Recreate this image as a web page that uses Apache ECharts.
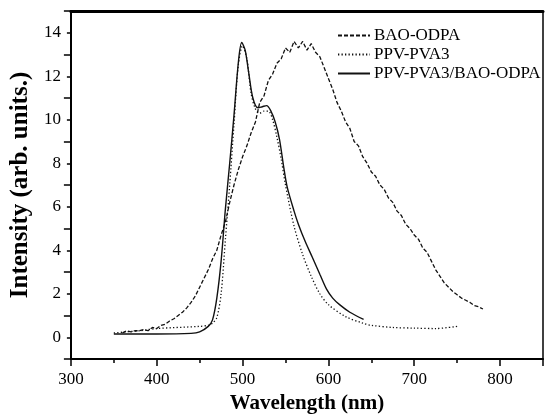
<!DOCTYPE html>
<html>
<head>
<meta charset="utf-8">
<script src="https://cdn.jsdelivr.net/npm/echarts@6/dist/echarts.min.js"></script>
<style>html,body{margin:0;padding:0;background:#fff}#c{width:546px;height:419px}</style>
</head>
<body>
<div id="c"></div>
<script>
// BAO-ODPA (dashed)
var baoX = [360,365,370,375,380,385,390,395,400,405,410,415,420,425,430,435,440,445,450,455,460,465,470,475,480,485,490,495,500,505,510,515,520,525,530,535,540,545,550,555,560,565,570,575,580,585,590,595,600,605,610,615,620,625,630,635,640,645,650,655,660,665,670,675,680,685,690,695,700,705,710,715,720,725,730,735,740,745,750,755,760,765,770,775,780];
var baoY = [0.2,0.3,0.25,0.3,0.3,0.35,0.3,0.45,0.4,0.55,0.6,0.75,0.85,1.0,1.15,1.35,1.6,1.9,2.3,2.7,3.1,3.6,4.0,4.7,5.3,6.2,7.0,7.7,8.3,8.8,9.4,9.9,10.8,11.1,11.8,12.1,12.6,12.8,13.3,13.1,13.6,13.3,13.6,13.2,13.5,13.1,12.9,12.4,11.9,11.4,10.8,10.4,9.9,9.6,9.0,8.8,8.3,8.0,7.6,7.4,7.0,6.8,6.4,6.2,5.8,5.6,5.2,5.0,4.7,4.5,4.1,3.9,3.5,3.1,2.8,2.5,2.3,2.1,1.95,1.8,1.7,1.6,1.45,1.4,1.3];
// PPV-PVA3 (dotted)
var ppvX = [350,380,400,450,460,465,470,475,480,485,490,495,500,505,510,515,520,525,530,535,540,545,550,560,570,580,590,600,620,640,650,675,700,725,750];
var ppvY = [0.2,0.3,0.4,0.5,0.55,0.65,0.9,2.0,4.5,7.0,9.8,12.5,13.4,12.8,11.2,10.5,10.3,10.4,10.4,10.0,9.2,8.2,7.0,5.1,3.8,2.8,2.0,1.5,0.95,0.65,0.55,0.45,0.42,0.4,0.5];
// PPV-PVA3/BAO-ODPA (solid)
var mixX = [350,400,440,450,460,465,470,475,480,485,490,495,499,503,507,512,518,523,528,533,538,543,548,552,560,565,573,581,590,598,605,613,625,641];
var mixY = [0.15,0.15,0.18,0.25,0.5,0.8,1.8,3.5,5.9,8.0,10.2,12.6,13.55,13.2,12.2,11.0,10.55,10.6,10.65,10.4,9.9,9.1,7.8,6.9,5.8,5.2,4.4,3.7,2.9,2.2,1.8,1.5,1.15,0.82];

var names = ['BAO-ODPA','PPV-PVA3','PPV-PVA3/BAO-ODPA'];
var xTicks = [300,400,500,600,700,800];
var yTicks = [0,2,4,6,8,10,12,14];

function pairs(xs, ys){ return xs.map(function(x,i){ return [x, ys[i]]; }); }

var FONT = "'Liberation Serif','Times New Roman',serif";
var chart = echarts.init(document.getElementById('c'), null, {renderer:'canvas'});
chart.setOption({
  animation:false,
  backgroundColor:'#fff',
  grid:{left:69, right:1, top:11, bottom:56, containLabel:false},
  legend:{
    orient:'vertical', left:337, top:27, itemWidth:32, itemHeight:14, itemGap:2, padding:0,
    itemStyle:{opacity:0},
    textStyle:{fontFamily:FONT, fontSize:17, color:'#000', lineHeight:14, padding:[0,0,0,-1]},
    data:names
  },
  xAxis:[{
    type:'value', min:300, max:850, interval:100, position:'bottom',
    name:'Wavelength (nm)', nameLocation:'middle', nameGap:34,
    nameTextStyle:{fontFamily:FONT, fontSize:21, fontWeight:'bold', color:'#000'},
    axisLine:{show:true, onZero:false, lineStyle:{color:'#000', width:2}},
    axisTick:{show:true, inside:false, length:7, lineStyle:{color:'#000', width:1.5}},
    minorTick:{show:true, splitNumber:2, length:4, lineStyle:{color:'#000', width:1.5}},
    axisLabel:{fontFamily:FONT, fontSize:17, color:'#000', margin:12,
      formatter:function(v){ return xTicks.indexOf(v) >= 0 ? String(v) : ''; }},
    splitLine:{show:false}
  },{
    type:'value', min:300, max:850, position:'top',
    axisLine:{show:true, onZero:false, lineStyle:{color:'#000', width:3}},
    axisTick:{show:false}, axisLabel:{show:false}, splitLine:{show:false}
  }],
  yAxis:[{
    type:'value', min:-1, max:15, interval:1, position:'left',
    name:'Intensity (arb. units.)', nameLocation:'middle', nameGap:36,
    nameTextStyle:{fontFamily:FONT, fontSize:25, fontWeight:'bold', color:'#000'},
    axisLine:{show:true, onZero:false, lineStyle:{color:'#000', width:2}},
    axisTick:{show:true, inside:false, length:4, lineStyle:{color:'#000', width:1.5}},
    axisLabel:{fontFamily:FONT, fontSize:17, color:'#000', margin:10,
      formatter:function(v){ return yTicks.indexOf(v) >= 0 ? String(v) : ''; }},
    splitLine:{show:false}
  },{
    type:'value', min:-1, max:15, interval:2, position:'left',
    axisLine:{show:false}, axisLabel:{show:false}, splitLine:{show:false},
    axisTick:{show:true, inside:false, length:7, lineStyle:{color:'#000', width:1.5}}
  },{
    type:'value', min:-1, max:15, position:'right',
    axisLine:{show:true, onZero:false, lineStyle:{color:'#000', width:1.5}},
    axisTick:{show:false}, axisLabel:{show:false}, splitLine:{show:false}
  }],
  series:[{
    name:names[0], type:'line', symbol:'none', data:pairs(baoX, baoY),
    lineStyle:{color:'#111', width:1.3, type:[4,2]}, itemStyle:{color:'#111'}
  },{
    name:names[1], type:'line', symbol:'none', data:pairs(ppvX, ppvY), smooth:0.3,
    lineStyle:{color:'#111', width:1.3, type:[1.3,2.2]}, itemStyle:{color:'#111'}
  },{
    name:names[2], type:'line', symbol:'none', data:pairs(mixX, mixY), smooth:0.3,
    lineStyle:{color:'#111', width:1.4, type:'solid'}, itemStyle:{color:'#111'}
  }]
});
</script>
</body>
</html>
